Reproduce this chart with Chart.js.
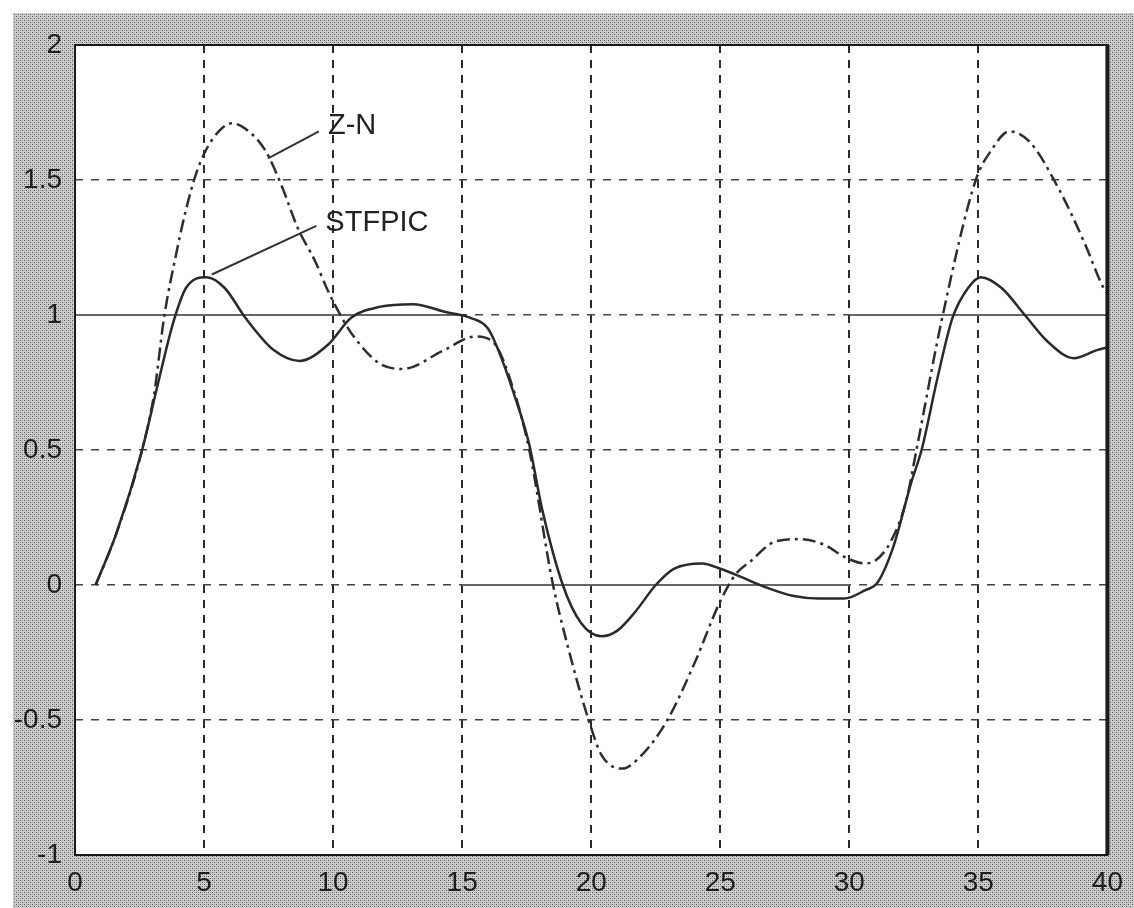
<!DOCTYPE html>
<html>
<head>
<meta charset="utf-8">
<script src="https://cdn.jsdelivr.net/npm/chart.js@4.4.1/dist/chart.umd.min.js"></script>
<style>
  html, body { margin: 0; padding: 0; background: #fff; }
  #wrap { width: 1134px; height: 908px; }
</style>
</head>
<body>
<div id="wrap"><canvas id="responseChart"></canvas></div>
<script>
// axis ticks
const xTicks = [0, 5, 10, 15, 20, 25, 30, 35, 40];
const yTicks = [-1, -0.5, 0, 0.5, 1, 1.5, 2];

// STFPIC response (solid)
const stfpicT = [0.8, 1.6, 2.6, 3.2, 3.8, 4.3, 5.1, 5.8, 6.6, 7.7, 8.7, 9.8, 10.7, 11.8, 13.1, 14.4, 15.3, 16.0, 16.4, 17.0, 17.6, 18.1, 18.9, 19.6, 20.4, 21.0, 21.7, 22.5, 23.2, 24.3, 25.0, 25.8, 26.8, 27.8, 28.8, 29.8, 30.6, 31.1, 31.7, 32.4, 32.8, 33.4, 34.0, 34.6, 35.1, 35.9, 36.8, 37.7, 38.7, 39.6, 40];
const stfpicY = [0, 0.19, 0.50, 0.74, 0.97, 1.10, 1.14, 1.10, 0.99, 0.87, 0.83, 0.89, 0.99, 1.03, 1.04, 1.01, 0.99, 0.95, 0.87, 0.71, 0.52, 0.28, 0.0, -0.14, -0.19, -0.17, -0.10, 0.0, 0.06, 0.08, 0.06, 0.03, -0.01, -0.04, -0.05, -0.05, -0.02, 0.01, 0.14, 0.38, 0.50, 0.76, 0.99, 1.10, 1.14, 1.10, 1.0, 0.90, 0.84, 0.87, 0.88];

// Z-N response (dash-dot)
const znT = [0.8, 1.6, 2.6, 3.07, 3.45, 3.95, 4.3, 4.68, 5.07, 5.57, 6.07, 6.6, 7.37, 8.0, 8.64, 9.3, 9.8, 10.4, 10.8, 11.8, 12.7, 14.3, 15.5, 16.2, 17.0, 17.6, 18.5, 19.1, 19.9, 20.4, 21.2, 21.96, 22.95, 24.0, 25.0, 25.6, 26.2, 27.1, 28.1, 29.0, 29.9, 30.6, 31.0, 31.6, 32.2, 32.6, 33.6, 34.9, 35.5, 36.2, 37.0, 38.1, 39.1, 39.85, 40];
const znY = [0, 0.19, 0.50, 0.71, 0.99, 1.24, 1.39, 1.52, 1.61, 1.68, 1.71, 1.69, 1.61, 1.48, 1.32, 1.20, 1.09, 0.98, 0.92, 0.82, 0.80, 0.87, 0.92, 0.90, 0.72, 0.50, 0.01, -0.23, -0.5, -0.63, -0.68, -0.63, -0.5, -0.29, -0.06, 0.04, 0.09, 0.16, 0.17, 0.15, 0.10, 0.08, 0.09, 0.16, 0.31, 0.50, 0.99, 1.50, 1.61, 1.68, 1.64, 1.47, 1.27, 1.10, 1.08];

// set point (square wave), null breaks the line
const refT = [0, 15, 15, 15, 30, 30, 30, 40];
const refY = [1, 1, null, 0, 0, null, 1, 1];

const toPoints = (xs, ys) => xs.map((x, i) => ({ x: x, y: ys[i] }));

// curve labels with leader lines, in data units
const curveLabels = [
  { text: "Z-N", x: 9.8, y: 1.70, fromX: 7.48, fromY: 1.58, toX: 9.45, toY: 1.68 },
  { text: "STFPIC", x: 9.7, y: 1.34, fromX: 5.3, fromY: 1.15, toX: 9.35, toY: 1.33 },
];

function makePattern() {
  const c = document.createElement("canvas");
  c.width = 4;
  c.height = 4;
  const p = c.getContext("2d");
  p.fillStyle = "#cdcdcd";
  p.fillRect(0, 0, 4, 4);
  p.fillStyle = "#555";
  p.fillRect(0, 0, 1, 1);
  p.fillRect(2, 2, 1, 1);
  p.fillStyle = "#a2a2a2";
  p.fillRect(2, 0, 1, 1);
  p.fillRect(0, 2, 1, 1);
  return p.createPattern(c, "repeat");
}

const framePlugin = {
  id: "frame",
  beforeDraw(chart) {
    const ctx = chart.ctx;
    const a = chart.chartArea;
    ctx.save();
    ctx.fillStyle = "#fff";
    ctx.fillRect(0, 0, chart.width, chart.height);
    ctx.fillStyle = makePattern();
    ctx.fillRect(13, 13, chart.width - 13, chart.height - 13);
    ctx.fillStyle = "#fff";
    ctx.fillRect(a.left, a.top, a.right - a.left, a.bottom - a.top);
    ctx.restore();
  },
  afterDraw(chart) {
    const ctx = chart.ctx;
    const a = chart.chartArea;
    const xs = chart.scales.x;
    const ys = chart.scales.y;
    ctx.save();
    ctx.strokeStyle = "#1a1a1a";
    ctx.lineWidth = 2;
    ctx.strokeRect(a.left, a.top, a.right - a.left, a.bottom - a.top);
    ctx.lineWidth = 4;
    ctx.beginPath();
    ctx.moveTo(a.right, a.top);
    ctx.lineTo(a.right, a.bottom);
    ctx.stroke();

    ctx.lineWidth = 2;
    ctx.strokeStyle = "#333";
    ctx.fillStyle = "#222";
    ctx.textBaseline = "middle";
    curveLabels.forEach((l) => {
      ctx.beginPath();
      ctx.moveTo(xs.getPixelForValue(l.fromX), ys.getPixelForValue(l.fromY));
      ctx.lineTo(xs.getPixelForValue(l.toX), ys.getPixelForValue(l.toY));
      ctx.stroke();
      ctx.font = "29px 'Liberation Sans', Arial, sans-serif";
      ctx.fillText(l.text, xs.getPixelForValue(l.x), ys.getPixelForValue(l.y));
    });
    ctx.restore();
  },
};

new Chart(document.getElementById("responseChart"), {
  type: "scatter",
  data: {
    datasets: [
      {
        label: "STFPIC",
        data: toPoints(stfpicT, stfpicY),
        showLine: true,
        borderColor: "#2a2a2a",
        borderWidth: 2.5,
        pointRadius: 0,
        cubicInterpolationMode: "monotone",
      },
      {
        label: "Z-N",
        data: toPoints(znT, znY),
        showLine: true,
        borderColor: "#2e2e2e",
        borderWidth: 2.5,
        borderDash: [13, 5, 3, 5],
        pointRadius: 0,
        cubicInterpolationMode: "monotone",
      },
      {
        label: "ref",
        data: toPoints(refT, refY),
        showLine: true,
        spanGaps: false,
        borderColor: "#666",
        borderWidth: 2,
        pointRadius: 0,
      },
    ],
  },
  options: {
    responsive: true,
    maintainAspectRatio: false,
    animation: false,
    layout: { padding: { left: 0, top: 45, right: 17, bottom: 0 } },
    plugins: {
      legend: { display: false },
      tooltip: { enabled: false },
    },
    scales: {
      x: {
        type: "linear",
        min: 0,
        max: 40,
        afterFit: (s) => { s.height = 53; },
        afterBuildTicks: (s) => { s.ticks = xTicks.map((v) => ({ value: v })); },
        ticks: {
          padding: 11,
          color: "#1e1e1e",
          callback: (v) => String(v),
          font: { size: 28, family: "'Liberation Sans', Arial, sans-serif" },
        },
        grid: {
          drawTicks: false,
          color: "#2a2a2a",
          lineWidth: 2,
        },
        border: { display: false, dash: [8, 7] },
      },
      y: {
        type: "linear",
        min: -1,
        max: 2,
        afterFit: (s) => { s.width = 75; },
        afterBuildTicks: (s) => { s.ticks = yTicks.map((v) => ({ value: v })); },
        ticks: {
          padding: 13,
          color: "#1e1e1e",
          callback: (v) => String(v),
          font: { size: 28, family: "'Liberation Sans', Arial, sans-serif" },
        },
        grid: {
          drawTicks: false,
          color: "#444",
          lineWidth: 1.5,
        },
        border: { display: false, dash: [8, 8] },
      },
    },
  },
  plugins: [framePlugin],
});
</script>
</body>
</html>
